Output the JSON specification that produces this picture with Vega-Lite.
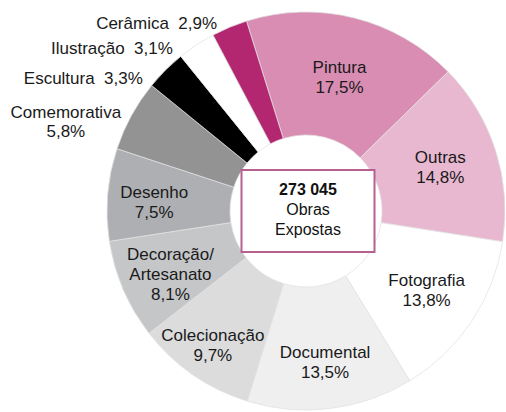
{
  "$schema": "https://vega.github.io/schema/vega-lite/v6.json",
  "autosize": "none",
  "width": 400,
  "height": 400,
  "padding": {"left": 106, "top": 11, "right": 0, "bottom": 1},
  "background": "white",
  "config": {"view": {"stroke": null}, "text": {"font": "Liberation Sans", "fontSize": 17, "baseline": "middle", "align": "center", "lineHeight": 20, "color": "#1a1a1a"}},
  "data": {
    "values": [
      {"cat": "Pintura", "value": 17.5, "ord": 1, "lines": ["Pintura", "17,5%"]},
      {"cat": "Outras", "value": 14.8, "ord": 2, "lines": ["Outras", "14,8%"]},
      {"cat": "Fotografia", "value": 13.8, "ord": 3, "lines": ["Fotografia", "13,8%"]},
      {"cat": "Documental", "value": 13.5, "ord": 4, "lines": ["Documental", "13,5%"]},
      {"cat": "Colecionação", "value": 9.7, "ord": 5, "lines": ["Colecionação", "9,7%"]},
      {"cat": "Decoração/Artesanato", "value": 8.1, "ord": 6, "lines": ["Decoração/", "Artesanato", "8,1%"]},
      {"cat": "Desenho", "value": 7.5, "ord": 7, "lines": ["Desenho", "7,5%"]},
      {"cat": "Comemorativa", "value": 5.8, "ord": 8, "lines": ["Comemorativa", "5,8%"]},
      {"cat": "Escultura", "value": 3.3, "ord": 9, "lines": "Escultura\u00a0 3,3%"},
      {"cat": "Ilustração", "value": 3.1, "ord": 10, "lines": "Ilustração\u00a0 3,1%"},
      {"cat": "Cerâmica", "value": 2.9, "ord": 11, "lines": "Cerâmica\u00a0 2,9%"}
    ]
  },
  "encoding": {
    "theta": {"field": "value", "type": "quantitative", "stack": true, "scale": {"range": [-0.3037, 5.9795]}},
    "order": {"field": "ord", "type": "quantitative"}
  },
  "layer": [
    {
      "mark": {"type": "arc", "innerRadius": 76, "outerRadius": 199, "stroke": "#e2e2e2", "strokeWidth": 0.75},
      "encoding": {
        "color": {
          "field": "cat", "type": "nominal", "legend": null,
          "scale": {
            "domain": ["Pintura", "Outras", "Fotografia", "Documental", "Colecionação", "Decoração/Artesanato", "Desenho", "Comemorativa", "Escultura", "Ilustração", "Cerâmica"],
            "range": ["#d98db3", "#e8b8d1", "#ffffff", "#efefef", "#dcdcdd", "#c5c6c8", "#adafb2", "#939393", "#000000", "#ffffff", "#b32670"]
          }
        }
      }
    },
    {
      "data": {"values": [{"box": "center"}]},
      "mark": {"type": "point", "shape": "M-1,-0.6165H1V0.6165H-1Z", "size": 17689, "filled": false, "fill": "white", "fillOpacity": 1, "stroke": "#b5608f", "strokeWidth": 2, "opacity": 1, "xOffset": 2},
      "encoding": {"theta": null, "order": null}
    },
    {
      "data": {"values": [{"t": "273 045"}]},
      "mark": {"type": "text", "font": "Liberation Sans", "fontSize": 16, "fontWeight": "bold", "dy": -21, "dx": 2, "color": "#111111"},
      "encoding": {"theta": null, "order": null, "text": {"field": "t"}}
    },
    {
      "data": {"values": [{"t": ["Obras", "Expostas"]}]},
      "mark": {"type": "text", "font": "Liberation Sans", "fontSize": 16, "lineHeight": 20, "dy": -1.5, "dx": 2, "color": "#111111"},
      "encoding": {"theta": null, "order": null, "text": {"field": "t"}}
    },
    {
      "mark": {"type": "text", "font": "Liberation Sans", "radius": 137.5, "dy": -10},
      "encoding": {"text": {"condition": {"test": "datum.cat === 'Pintura'", "field": "lines"}, "value": ""}}
    },
    {
      "mark": {"type": "text", "font": "Liberation Sans", "radius": 141, "dy": -10},
      "encoding": {"text": {"condition": {"test": "datum.cat === 'Outras'", "field": "lines"}, "value": ""}}
    },
    {
      "mark": {"type": "text", "font": "Liberation Sans", "radius": 145, "dy": -10},
      "encoding": {"text": {"condition": {"test": "datum.cat === 'Fotografia'", "field": "lines"}, "value": ""}}
    },
    {
      "mark": {"type": "text", "font": "Liberation Sans", "radius": 153, "dy": -10},
      "encoding": {"text": {"condition": {"test": "datum.cat === 'Documental'", "field": "lines"}, "value": ""}}
    },
    {
      "mark": {"type": "text", "font": "Liberation Sans", "radius": 164, "dy": -10},
      "encoding": {"text": {"condition": {"test": "datum.cat === 'Colecionação'", "field": "lines"}, "value": ""}}
    },
    {
      "mark": {"type": "text", "font": "Liberation Sans", "radius": 150, "dy": -20, "thetaOffset": -0.035},
      "encoding": {"text": {"condition": {"test": "datum.cat === 'Decoração/Artesanato'", "field": "lines"}, "value": ""}}
    },
    {
      "mark": {"type": "text", "font": "Liberation Sans", "radius": 152, "dy": -10, "thetaOffset": -0.03},
      "encoding": {"text": {"condition": {"test": "datum.cat === 'Desenho'", "field": "lines"}, "value": ""}}
    },
    {
      "mark": {"type": "text", "font": "Liberation Sans", "lineHeight": 19, "radius": 256, "thetaOffset": -0.147, "dy": -9.5},
      "encoding": {"text": {"condition": {"test": "datum.cat === 'Comemorativa'", "field": "lines"}, "value": ""}}
    },
    {
      "mark": {"type": "text", "font": "Liberation Sans", "align": "right", "radius": 211, "thetaOffset": -0.0995, "dy": 1.5},
      "encoding": {"text": {"condition": {"test": "indexof(['Escultura','Ilustração'], datum.cat) >= 0", "field": "lines"}, "value": ""}}
    },
    {
      "mark": {"type": "text", "font": "Liberation Sans", "align": "right", "radius": 208, "thetaOffset": -0.047, "dy": 1.5},
      "encoding": {"text": {"condition": {"test": "datum.cat === 'Cerâmica'", "field": "lines"}, "value": ""}}
    }
  ]
}
